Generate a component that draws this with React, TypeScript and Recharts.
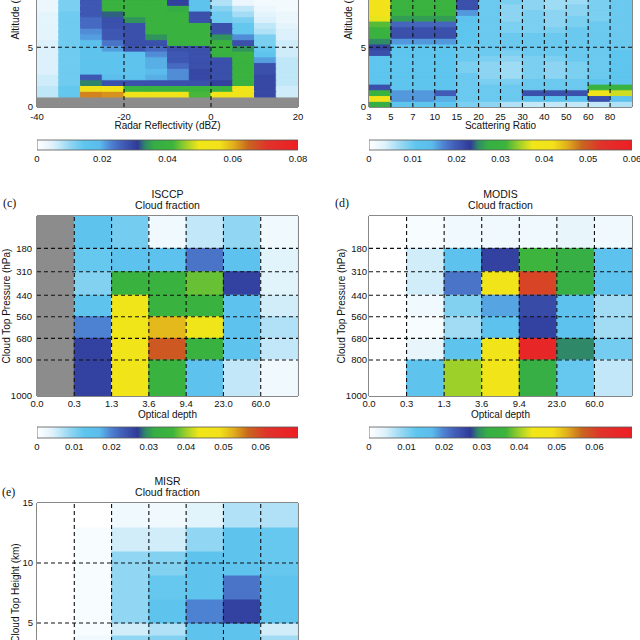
import { Bar, BarChart, Cell, ReferenceArea, ReferenceLine, XAxis, YAxis } from "recharts";

const SANS = "'Liberation Sans', Arial, Helvetica, sans-serif";
const SERIF = "'Liberation Serif', 'DejaVu Serif', serif";
const GRAY = -1; // no retrieval (surface clutter / undefined bin)

// colour table shared by every panel, position as a fraction of the colour-bar range
const cmapStops: [number, string][] = [
  [0.0, "#ffffff"],
  [0.06, "#dff2fb"],
  [0.13, "#8fd5f2"],
  [0.18, "#5ec5ee"],
  [0.24, "#5bbcec"],
  [0.28, "#4f86d4"],
  [0.32, "#4462bc"],
  [0.385, "#2f3a98"],
  [0.415, "#2f8a66"],
  [0.45, "#36ae45"],
  [0.52, "#3cb43c"],
  [0.57, "#9ccf2a"],
  [0.62, "#f0e619"],
  [0.7, "#f2e11a"],
  [0.75, "#e2b21c"],
  [0.81, "#c8661f"],
  [0.88, "#e0332a"],
  [1.0, "#ee1d25"],
];

// ---- (a) radar reflectivity CFAD ----
const dbzEdges = [-40, -35, -30, -25, -20, -15, -10, -5, 0, 5, 10, 15, 20];
const dbzTicks = [-40, -20, 0, 20];
const radarAltEdges = [0, 0.84, 1.32, 1.8, 2.28, 2.76, 3.24, 3.72, 4.2, 4.68, 5.16, 5.64, 6.12, 6.6, 7.08, 7.56, 8.04, 8.52, 9.0, 9.48];
// lowest bin first, columns -40..-35 ... 15..20 dBZ
const radarCF: number[][] = [
  [GRAY, GRAY, GRAY, GRAY, GRAY, GRAY, GRAY, GRAY, GRAY, GRAY, GRAY, GRAY],
  [0.007, 0.014, 0.063, 0.062, 0.054, 0.054, 0.054, 0.042, 0.052, 0.053, 0.029, 0.006],
  [0.007, 0.014, 0.053, 0.052, 0.04, 0.04, 0.04, 0.041, 0.04, 0.052, 0.029, 0.006],
  [0.006, 0.013, 0.033, 0.028, 0.028, 0.028, 0.028, 0.028, 0.03, 0.04, 0.029, 0.007],
  [0.006, 0.013, 0.027, 0.018, 0.016, 0.02, 0.022, 0.029, 0.028, 0.04, 0.029, 0.007],
  [0.005, 0.013, 0.015, 0.015, 0.015, 0.019, 0.022, 0.029, 0.028, 0.04, 0.028, 0.007],
  [0.005, 0.013, 0.015, 0.015, 0.015, 0.02, 0.025, 0.028, 0.028, 0.04, 0.028, 0.007],
  [0.005, 0.013, 0.015, 0.015, 0.015, 0.02, 0.027, 0.028, 0.028, 0.04, 0.021, 0.007],
  [0.005, 0.013, 0.015, 0.015, 0.016, 0.022, 0.027, 0.028, 0.039, 0.04, 0.015, 0.006],
  [0.005, 0.013, 0.015, 0.021, 0.027, 0.025, 0.028, 0.028, 0.04, 0.034, 0.014, 0.006],
  [0.005, 0.013, 0.017, 0.024, 0.028, 0.028, 0.04, 0.04, 0.04, 0.028, 0.012, 0.006],
  [0.004, 0.013, 0.021, 0.027, 0.028, 0.034, 0.04, 0.04, 0.034, 0.022, 0.012, 0.005],
  [0.004, 0.013, 0.022, 0.027, 0.028, 0.04, 0.04, 0.04, 0.028, 0.014, 0.008, 0.005],
  [0.004, 0.013, 0.025, 0.028, 0.028, 0.04, 0.04, 0.04, 0.028, 0.014, 0.007, 0.004],
  [0.004, 0.013, 0.025, 0.028, 0.034, 0.04, 0.04, 0.028, 0.013, 0.012, 0.005, 0.003],
  [0.004, 0.013, 0.027, 0.032, 0.04, 0.04, 0.04, 0.028, 0.013, 0.009, 0.004, 0.003],
  [0.003, 0.012, 0.027, 0.04, 0.04, 0.04, 0.036, 0.015, 0.011, 0.007, 0.003, 0.002],
  [0.003, 0.012, 0.027, 0.04, 0.04, 0.04, 0.03, 0.015, 0.008, 0.003, 0.002, 0.002],
  [0.003, 0.012, 0.027, 0.04, 0.04, 0.04, 0.03, 0.015, 0.008, 0.003, 0.002, 0.002],
];

// ---- (b) lidar scattering ratio CFAD ----
const srLabels = ["3", "5", "7", "10", "15", "20", "25", "30", "40", "50", "60", "80"];
const lidarAltEdges = [0, 0.48, 0.96, 1.44, 1.92, 2.4, 2.88, 3.36, 3.84, 4.32, 4.8, 5.28, 5.76, 6.24, 6.72, 7.2, 7.68, 8.16, 8.64, 9.12, 9.6];
const lidarCF: number[][] = [
  [0.027, 0.011, 0.011, 0.011, 0.009, 0.008, 0.006, 0.005, 0.005, 0.005, 0.005, 0.006],
  [0.04, 0.016, 0.016, 0.015, 0.01, 0.01, 0.01, 0.012, 0.012, 0.012, 0.021, 0.012],
  [0.03, 0.016, 0.016, 0.02, 0.01, 0.01, 0.01, 0.021, 0.021, 0.021, 0.04, 0.036],
  [0.021, 0.011, 0.011, 0.011, 0.01, 0.01, 0.01, 0.01, 0.01, 0.01, 0.03, 0.03],
  [0.011, 0.011, 0.011, 0.011, 0.01, 0.009, 0.009, 0.01, 0.01, 0.01, 0.011, 0.011],
  [0.011, 0.011, 0.011, 0.011, 0.01, 0.008, 0.007, 0.009, 0.008, 0.009, 0.01, 0.011],
  [0.011, 0.011, 0.011, 0.011, 0.009, 0.008, 0.007, 0.009, 0.008, 0.009, 0.01, 0.011],
  [0.011, 0.011, 0.011, 0.011, 0.009, 0.008, 0.007, 0.009, 0.008, 0.009, 0.01, 0.011],
  [0.011, 0.011, 0.011, 0.011, 0.01, 0.009, 0.008, 0.009, 0.009, 0.01, 0.01, 0.011],
  [0.021, 0.011, 0.011, 0.011, 0.01, 0.01, 0.009, 0.01, 0.01, 0.01, 0.01, 0.011],
  [0.022, 0.011, 0.011, 0.011, 0.01, 0.01, 0.01, 0.01, 0.01, 0.01, 0.01, 0.01],
  [0.025, 0.016, 0.016, 0.016, 0.011, 0.01, 0.01, 0.01, 0.01, 0.01, 0.01, 0.01],
  [0.03, 0.021, 0.021, 0.021, 0.011, 0.01, 0.01, 0.01, 0.01, 0.01, 0.01, 0.01],
  [0.03, 0.021, 0.021, 0.021, 0.011, 0.01, 0.009, 0.009, 0.009, 0.01, 0.01, 0.01],
  [0.032, 0.019, 0.019, 0.019, 0.011, 0.01, 0.009, 0.009, 0.008, 0.009, 0.01, 0.01],
  [0.037, 0.026, 0.026, 0.026, 0.012, 0.01, 0.008, 0.009, 0.008, 0.009, 0.009, 0.01],
  [0.041, 0.03, 0.03, 0.03, 0.016, 0.01, 0.008, 0.009, 0.008, 0.008, 0.009, 0.01],
  [0.041, 0.03, 0.03, 0.03, 0.021, 0.01, 0.008, 0.008, 0.007, 0.008, 0.009, 0.01],
  [0.041, 0.03, 0.03, 0.03, 0.021, 0.01, 0.009, 0.008, 0.007, 0.007, 0.009, 0.01],
  [0.041, 0.03, 0.03, 0.03, 0.021, 0.01, 0.009, 0.008, 0.007, 0.007, 0.009, 0.01],
];

// ---- (c)/(d) ISCCP & MODIS joint histograms ----
const tauLabels = ["0.0", "0.3", "1.3", "3.6", "9.4", "23.0", "60.0"];
const ctpEdges = [0, 180, 310, 440, 560, 680, 800, 1000];
const ctpTicks = [180, 310, 440, 560, 680, 800, 1000];
// top pressure bin first
const isccpCF: number[][] = [
  [GRAY, 0.013, 0.011, 0.002, 0.006, 0.009, 0.002],
  [GRAY, 0.012, 0.014, 0.014, 0.021, 0.014, 0.004],
  [GRAY, 0.01, 0.035, 0.035, 0.038, 0.026, 0.004],
  [GRAY, 0.013, 0.044, 0.035, 0.035, 0.014, 0.005],
  [GRAY, 0.02, 0.044, 0.052, 0.044, 0.014, 0.007],
  [GRAY, 0.026, 0.045, 0.058, 0.035, 0.013, 0.006],
  [GRAY, 0.026, 0.045, 0.035, 0.014, 0.006, 0.002],
];
const modisCF: number[][] = [
  [0, 0.001, 0.002, 0.002, 0.002, 0.003, 0.002],
  [0, 0.005, 0.014, 0.026, 0.036, 0.032, 0.014],
  [0, 0.005, 0.021, 0.045, 0.06, 0.032, 0.014],
  [0, 0.002, 0.01, 0.018, 0.025, 0.014, 0.008],
  [0, 0.001, 0.008, 0.014, 0.026, 0.014, 0.008],
  [0, 0.003, 0.013, 0.045, 0.066, 0.029, 0.011],
  [0, 0.013, 0.04, 0.045, 0.032, 0.012, 0.006],
];

// ---- (e) MISR cloud-top height histogram ----
const cthEdges = [0, 3, 4, 5, 7, 9, 11, 13, 15];
const misrCF: (number | null)[][] = [
  [null, null, null, null, null, null, null],
  [0, 0.002, 0.009, 0.01, 0.013, 0.013, 0.008],
  [0, 0.001, 0.005, 0.007, 0.013, 0.013, 0.005],
  [0, 0.001, 0.009, 0.013, 0.02, 0.026, 0.013],
  [0, 0.001, 0.009, 0.012, 0.013, 0.021, 0.013],
  [0, 0.001, 0.009, 0.01, 0.013, 0.013, 0.012],
  [0, 0.001, 0.005, 0.005, 0.009, 0.013, 0.012],
  [0, 0.0, 0.002, 0.002, 0.004, 0.007, 0.007],
];

const cbTicks8 = [0, 0.02, 0.04, 0.06, 0.08];
const cbTicks6 = [0, 0.01, 0.02, 0.03, 0.04, 0.05, 0.06];

function hexRgb(h: string) {
  return [1, 3, 5].map((i) => parseInt(h.slice(i, i + 2), 16));
}

function cmap(v: number | null, vmax: number): string {
  if (v === null) return "none";
  if (v === GRAY) return "#8c8c8c";
  const t = Math.max(0, Math.min(1, v / vmax));
  for (let k = 1; k < cmapStops.length; k++) {
    const [t1, c1] = cmapStops[k];
    if (t <= t1) {
      const [t0, c0] = cmapStops[k - 1];
      const f = (t - t0) / (t1 - t0);
      const a = hexRgb(c0);
      const b = hexRgb(c1);
      return `rgb(${a.map((x, i) => Math.round(x + (b[i] - x) * f)).join(",")})`;
    }
  }
  return cmapStops[cmapStops.length - 1][1];
}

const tickStyle = { fontSize: 9.5, fill: "#111", fontFamily: SANS };
const labelStyle = { fontSize: 10, fill: "#111", fontFamily: SANS };
const dash = { stroke: "#111", strokeDasharray: "4 3", strokeWidth: 1.1 };

type PanelProps = {
  left: number;
  top: number;
  yw: number;
  plotW: number;
  plotH: number;
  xEdges: number[];
  xTicks: number[];
  xFmt?: (v: number) => string;
  xLabel?: string;
  xTickMargin: number;
  yEdges: number[];
  yDomain: [number, number];
  yTicks: number[];
  reversed?: boolean;
  yLabel: string;
  yTickMargin: number;
  yLabelOffset: number;
  vLines: number[];
  hLines: number[];
  values: (number | null)[][];
  vmax: number;
};

function Heatmap(p: PanelProps) {
  const mt = 4;
  const mr = 10;
  const xh = 30;
  const x0 = p.xEdges[0];
  const x1 = p.xEdges[p.xEdges.length - 1];
  // one entry per column: bin centre + the thickness of each stacked row bin
  const data = p.xEdges.slice(0, -1).map((e, i) => {
    const d: Record<string, number> = { xc: (e + p.xEdges[i + 1]) / 2 };
    for (let j = 0; j < p.yEdges.length - 1; j++) d[`r${j}`] = p.yEdges[j + 1] - p.yEdges[j];
    return d;
  });
  return (
    <div style={{ position: "absolute", left: p.left, top: p.top - mt }}>
      <BarChart
        width={p.yw + p.plotW + mr}
        height={mt + p.plotH + xh}
        data={data}
        margin={{ top: mt, right: mr, bottom: 0, left: 0 }}
        barCategoryGap={0}
        barGap={0}
      >
        <XAxis
          dataKey="xc"
          type="number"
          domain={[x0, x1]}
          allowDataOverflow
          ticks={p.xTicks}
          interval={0}
          tickFormatter={p.xFmt}
          height={xh}
          tickSize={0}
          tickMargin={p.xTickMargin}
          axisLine={false}
          tick={tickStyle}
          label={p.xLabel ? { value: p.xLabel, position: "insideBottom", offset: 8, style: labelStyle } : undefined}
        />
        <YAxis
          type="number"
          domain={p.yDomain}
          allowDataOverflow
          reversed={p.reversed}
          ticks={p.yTicks}
          interval={0}
          width={p.yw}
          tickSize={0}
          tickMargin={p.yTickMargin}
          axisLine={false}
          tick={tickStyle}
          label={{
            value: p.yLabel,
            angle: -90,
            position: "insideLeft",
            offset: p.yLabelOffset,
            style: { ...labelStyle, textAnchor: "middle" },
          }}
        />
        {p.yEdges.slice(1).map((_, j) => (
          <Bar key={j} dataKey={`r${j}`} stackId="s" isAnimationActive={false}>
            {data.map((_, i) => {
              const f = cmap(p.values[j][i], p.vmax);
              return <Cell key={i} fill={f} stroke={f} strokeWidth={1} />;
            })}
          </Bar>
        ))}
        {p.vLines.map((x) => (
          <ReferenceLine key={`v${x}`} x={x} {...dash} />
        ))}
        {p.hLines.map((y) => (
          <ReferenceLine key={`h${y}`} y={y} {...dash} />
        ))}
        <ReferenceArea
          x1={x0}
          x2={x1}
          y1={p.yDomain[0]}
          y2={p.yDomain[1]}
          fill="none"
          stroke="#111"
          strokeWidth={1}
          ifOverflow="visible"
        />
      </BarChart>
    </div>
  );
}

function Colorbar({ id, left, top, width, barH, vmax, ticks }: { id: string; left: number; top: number; width: number; barH: number; vmax: number; ticks: number[] }) {
  return (
    <div style={{ position: "absolute", left: left - 12, top: top - 1 }}>
      <BarChart
        layout="vertical"
        width={width + 24}
        height={1 + barH + 18}
        data={[{ name: "cb", v: vmax }]}
        margin={{ top: 1, right: 12, bottom: 0, left: 12 }}
        barCategoryGap={0}
      >
        <defs>
          <linearGradient id={id} x1="0" y1="0" x2="1" y2="0">
            {cmapStops.map(([t, c]) => (
              <stop key={t} offset={t} stopColor={c} />
            ))}
          </linearGradient>
        </defs>
        <XAxis
          type="number"
          domain={[0, vmax]}
          allowDataOverflow
          ticks={ticks}
          interval={0}
          tickFormatter={(v: number) => (v === 0 ? "0" : v.toFixed(2))}
          height={18}
          tickSize={0}
          tickMargin={5}
          axisLine={false}
          tick={tickStyle}
        />
        <YAxis type="category" dataKey="name" hide width={0} />
        <Bar dataKey="v" fill={`url(#${id})`} stroke="#555" strokeWidth={0.8} isAnimationActive={false} />
      </BarChart>
    </div>
  );
}

const idx = (n: number) => Array.from({ length: n }, (_, i) => i);

export default function App() {
  return (
    <div style={{ position: "absolute", left: 0, top: 0, width: 640, height: 640, overflow: "hidden", background: "#fff" }}>
      <Heatmap
        left={0}
        top={-84}
        yw={37}
        plotW={261}
        plotH={191}
        xEdges={dbzEdges}
        xTicks={dbzTicks}
        xLabel="Radar Reflectivity (dBZ)"
        xTickMargin={6}
        yEdges={radarAltEdges}
        yDomain={[0, 16]}
        yTicks={[0, 5]}
        yLabel="Altitude (km)"
        yTickMargin={4}
        yLabelOffset={15}
        vLines={[-20, 0]}
        hLines={[5]}
        values={radarCF}
        vmax={0.08}
      />
      <Heatmap
        left={329}
        top={-84}
        yw={40}
        plotW={263}
        plotH={191}
        xEdges={idx(13)}
        xTicks={idx(12)}
        xFmt={(v) => srLabels[v] ?? ""}
        xLabel="Scattering Ratio"
        xTickMargin={6}
        yEdges={lidarAltEdges}
        yDomain={[0, 16]}
        yTicks={[0, 5]}
        yLabel="Altitude (km)"
        yTickMargin={3}
        yLabelOffset={19}
        vLines={idx(12).slice(1)}
        hLines={[5]}
        values={lidarCF}
        vmax={0.06}
      />
      <Colorbar id="cbA" left={37} top={140} width={261} barH={10} vmax={0.08} ticks={cbTicks8} />
      <Colorbar id="cbB" left={369} top={140} width={263} barH={10} vmax={0.06} ticks={cbTicks6} />

      <Heatmap
        left={0}
        top={216}
        yw={37}
        plotW={261}
        plotH={180}
        xEdges={idx(8)}
        xTicks={idx(7)}
        xFmt={(v) => tauLabels[v] ?? ""}
        xLabel="Optical depth"
        xTickMargin={4}
        yEdges={ctpEdges}
        yDomain={[0, 1000]}
        reversed
        yTicks={ctpTicks}
        yLabel="Cloud Top Pressure (hPa)"
        yTickMargin={5}
        yLabelOffset={6}
        vLines={idx(7).slice(1)}
        hLines={ctpTicks.slice(0, 6)}
        values={isccpCF}
        vmax={0.07}
      />
      <Heatmap
        left={329}
        top={216}
        yw={40}
        plotW={263}
        plotH={180}
        xEdges={idx(8)}
        xTicks={idx(7)}
        xFmt={(v) => tauLabels[v] ?? ""}
        xLabel="Optical depth"
        xTickMargin={4}
        yEdges={ctpEdges}
        yDomain={[0, 1000]}
        reversed
        yTicks={ctpTicks}
        yLabel="Cloud Top Pressure (hPa)"
        yTickMargin={2}
        yLabelOffset={12}
        vLines={idx(7).slice(1)}
        hLines={ctpTicks.slice(0, 6)}
        values={modisCF}
        vmax={0.07}
      />
      <Colorbar id="cbC" left={37} top={427} width={261} barH={11} vmax={0.07} ticks={cbTicks6} />
      <Colorbar id="cbD" left={369} top={427} width={263} barH={11} vmax={0.07} ticks={cbTicks6} />

      <Heatmap
        left={0}
        top={503}
        yw={37}
        plotW={261}
        plotH={180}
        xEdges={idx(8)}
        xTicks={idx(7)}
        xFmt={(v) => tauLabels[v] ?? ""}
        xLabel="Optical depth"
        xTickMargin={4}
        yEdges={cthEdges}
        yDomain={[0, 15]}
        yTicks={[0, 5, 10, 15]}
        yLabel="Cloud Top Height (km)"
        yTickMargin={4}
        yLabelOffset={15}
        vLines={idx(7).slice(1)}
        hLines={[5, 10]}
        values={misrCF}
        vmax={0.07}
      />

      <svg width={640} height={640} style={{ position: "absolute", left: 0, top: 0, pointerEvents: "none" }}>
        <g fontFamily={SANS} fontSize={10.5} fill="#111" textAnchor="middle">
          <text x={167.5} y={198}>ISCCP</text>
          <text x={167.5} y={209}>Cloud fraction</text>
          <text x={500.5} y={198}>MODIS</text>
          <text x={500.5} y={209}>Cloud fraction</text>
          <text x={167.5} y={485}>MISR</text>
          <text x={167.5} y={496}>Cloud fraction</text>
        </g>
        <g fontFamily={SERIF} fontSize={12} fill="#111">
          <text x={3} y={206.5}>(c)</text>
          <text x={335} y={206.5}>(d)</text>
          <text x={2} y={495.5}>(e)</text>
        </g>
      </svg>
    </div>
  );
}
